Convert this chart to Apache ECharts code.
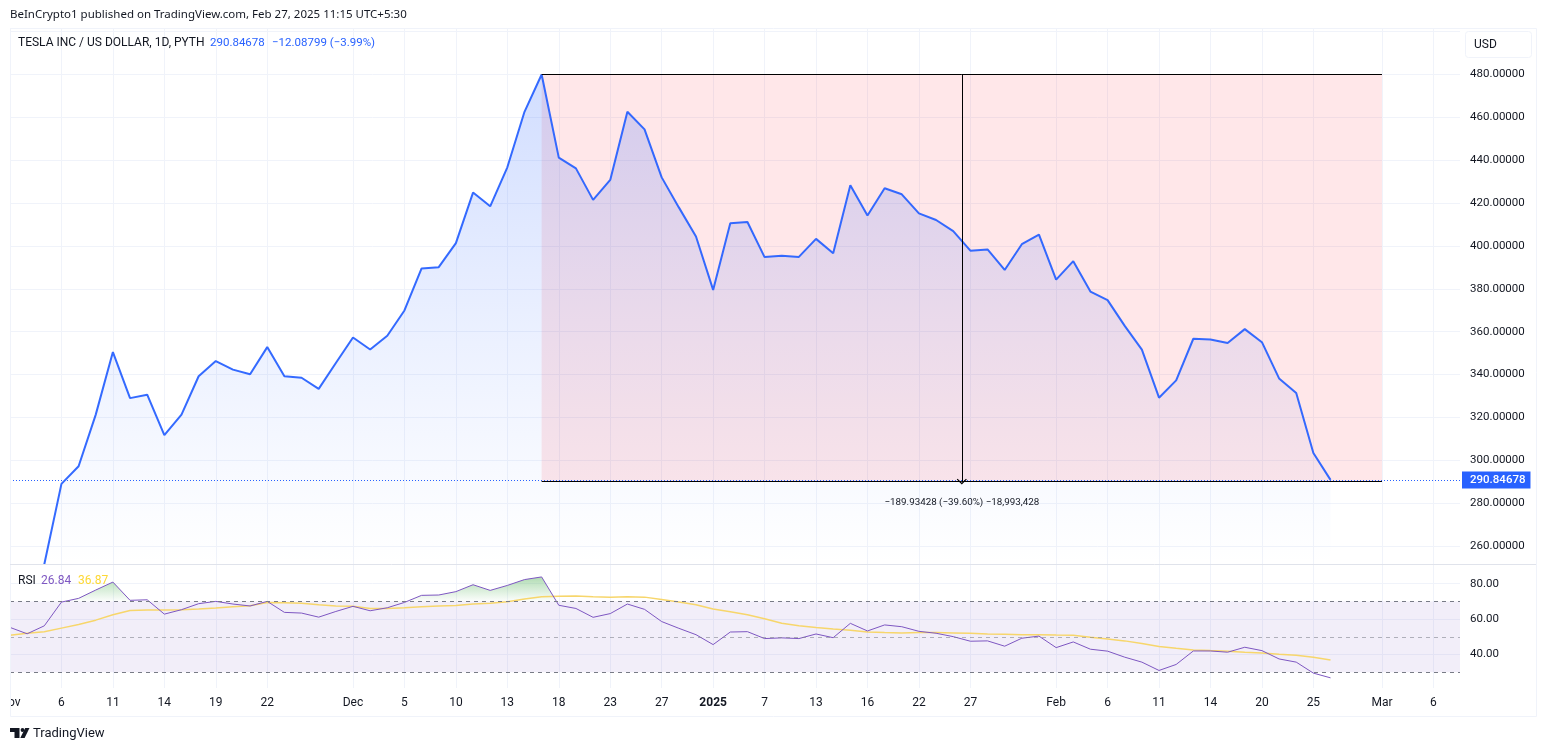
<!DOCTYPE html>
<html>
<head>
<meta charset="utf-8">
<title>TSLA / USD</title>
<script src="https://cdn.jsdelivr.net/npm/echarts@6/dist/echarts.min.js"></script>
<style>
  html, body { margin: 0; padding: 0; background: #fff; }
  #main { width: 1545px; height: 751px; }
</style>
</head>
<body>
<div id="main"></div>
<script>
  const FONT = 'Roboto, sans-serif';
  const HEAD_FONT = '"Noto Sans", sans-serif';
  const BLUE = '#2962ff';
  const GRID = '#f0f3fa';
  const INK = '#131722';

  // one entry per trading day from Nov 1 2024 (first two are below the pane)
  const price = [
    null, null, 251.5, 289, 297.2, 321.3, 350.5, 329, 330.6, 311.7, 321.3, 339.2, 346.3, 342.3, 340.1,
    352.8, 339.2, 338.5, 333.3, 345.4, 357.3, 351.7, 358.1, 369.9, 389.5, 390.1, 401.3, 424.9, 418.5, 436.7,
    462.6, 480, 441.2, 436.2, 421.5, 430.8, 462.6, 454.4, 432, 418, 404.4, 379.5, 410.6, 411.2, 394.8,
    395.4, 394.9, 403.3, 396.6, 428.3, 414.2, 426.9, 424.1, 415.2, 412.1, 406.9, 397.8, 398.4, 388.8, 400.8,
    405.3, 384.3, 392.9, 378.7, 374.7, 362.7, 351.6, 329.2, 337.3, 356.7, 356.4, 354.7, 361.2, 355.1, 338.2,
    331.4, 303.4, 290.85
  ];
  const rsi = [
    55.3, 51.7, 56.2, 69.6, 71.7, 76.4, 80.9, 70.6, 70.9, 62.8, 65.3, 68.7, 70, 68.5, 67.4,
    70, 63.8, 63.4, 61.1, 64.3, 67.2, 64.7, 66.4, 69.4, 73.4, 73.6, 75.5, 79.4, 76.2, 79,
    82.3, 83.8, 67.8, 66, 61, 63.1, 68.5, 65.5, 58.6, 54.8, 51.2, 45.6, 52.7, 52.9, 49,
    49.4, 49, 51.6, 49.5, 57.6, 53.3, 56.7, 55.7, 53.1, 52, 50.1, 47.5, 47.7, 44.7, 49.2,
    50.4, 43.9, 47.1, 43, 41.9, 38.5, 35.7, 31, 34.4, 42, 42, 41.3, 44.1, 42.2, 37.5,
    35.7, 29.5, 26.84
  ];
  const rsiMa = [
    50.9, 52, 52.8, 54.9, 57, 59.4, 62.5, 64.9, 65.1, 65.1, 65.3, 65.7, 66.2, 67, 67.5,
    69.4, 69.2, 69, 68.1, 67.4, 67.2, 66, 66, 66.4, 67, 67.4, 67.7, 68.5, 69, 69.8,
    71.3, 72.6, 72.9, 73, 72.6, 72.4, 72.6, 72.4, 71.1, 69.6, 68.1, 65.7, 64.2, 62.5, 60.2,
    57.6, 56.3, 55.2, 54.4, 53.7, 52.7, 52.4, 52.2, 52.5, 52.4, 52.2, 52, 51.6, 51.4, 51.2,
    51.2, 51, 50.9, 49.7, 48.8, 47.7, 46.2, 44.5, 43.5, 42.6, 42.2, 41.9, 41.3, 40.9, 40.2,
    39.6, 38.5, 36.87
  ];

  const dayLabels = {
    0: 'Nov', 3: '6', 6: '11', 9: '14', 12: '19', 15: '22', 20: 'Dec', 23: '5', 26: '10', 29: '13',
    32: '18', 35: '23', 38: '27', 41: '2025', 44: '7', 47: '13', 50: '16', 53: '22', 56: '27',
    61: 'Feb', 64: '6', 67: '11', 70: '14', 73: '20', 76: '25', 80: 'Mar', 83: '6'
  };
  const dayTicks = Object.keys(dayLabels).map(Number);

  const LAST_DAY = 84.55;
  const PEAK_DAY = 31, MEASURE_END_DAY = 80, ARROW_DAY = 55.5;
  const MEASURE_TOP = 480, MEASURE_BOTTOM = 290.07, LAST_PRICE = 290.84678;

  const toPoints = (arr) => arr.map((v, i) => [i, v]);

  const xAxisBase = {
    type: 'value',
    min: 0,
    max: LAST_DAY,
    axisLine: { show: false },
    axisTick: { show: false, customValues: dayTicks },
    splitLine: { show: true, lineStyle: { color: GRID, width: 1 } }
  };
  const yAxisBase = {
    type: 'value',
    position: 'right',
    scale: true,
    axisLine: { show: false },
    splitLine: { show: true, lineStyle: { color: GRID, width: 1 } }
  };
  const priceTicks = [];
  for (let v = 260; v <= 500; v += 20) priceTicks.push(v);
  const priceLabels = priceTicks.filter((v) => v <= 480);
  const rsiTicks = [40, 60, 80];

  const option = {
    animation: false,
    backgroundColor: '#fff',
    textStyle: { fontFamily: FONT },
    grid: [
      { left: 10, top: 28, width: 1450, height: 536, outerBoundsMode: 'none' },
      { left: 10, top: 564, width: 1450, height: 124, outerBoundsMode: 'none' }
    ],
    xAxis: [
      { ...xAxisBase, gridIndex: 0, axisLabel: { show: false } },
      {
        ...xAxisBase,
        gridIndex: 1,
        axisLabel: {
          customValues: dayTicks,
          margin: 9,
          fontFamily: FONT,
          fontSize: 12,
          color: INK,
          formatter: (v) => (dayLabels[v] === '2025' ? '{b|2025}' : dayLabels[v]),
          rich: { b: { fontWeight: 'bold', fontSize: 12, color: INK, fontFamily: FONT } }
        }
      }
    ],
    yAxis: [
      {
        ...yAxisBase,
        gridIndex: 0,
        min: 251.6,
        max: 501.7,
        axisTick: { show: false, customValues: priceTicks },
        axisLabel: {
          customValues: priceLabels,
          margin: 10,
          padding: [4, 0, 0, 0],
          fontFamily: FONT,
          fontSize: 11.5,
          color: INK,
          formatter: (v) => v.toFixed(5)
        }
      },
      {
        ...yAxisBase,
        gridIndex: 1,
        min: 21.1,
        max: 91.1,
        axisTick: { show: false, customValues: rsiTicks },
        axisLabel: {
          customValues: rsiTicks,
          margin: 10,
          padding: [3, 0, 0, 0],
          fontFamily: FONT,
          fontSize: 11.5,
          color: INK,
          formatter: (v) => v.toFixed(2)
        }
      }
    ],
    series: [
      {
        // pink box of the measure tool
        name: 'Range',
        type: 'line',
        xAxisIndex: 0,
        yAxisIndex: 0,
        data: [],
        z: 1,
        silent: true,
        markArea: {
          silent: true,
          itemStyle: { color: 'rgba(255,60,75,0.12)' },
          data: [[{ coord: [PEAK_DAY, MEASURE_TOP] }, { coord: [MEASURE_END_DAY, MEASURE_BOTTOM] }]]
        }
      },
      {
        name: 'TSLA',
        type: 'line',
        xAxisIndex: 0,
        yAxisIndex: 0,
        data: toPoints(price),
        z: 2,
        symbol: 'none',
        lineStyle: { color: BLUE, width: 2, opacity: 0.95 },
        itemStyle: { color: BLUE },
        areaStyle: {
          origin: 'start',
          color: {
            type: 'linear', x: 0, y: 0, x2: 0, y2: 1,
            colorStops: [
              { offset: 0, color: 'rgba(41,98,255,0.3)' },
              { offset: 0.5, color: 'rgba(41,98,255,0.14)' },
              { offset: 0.92, color: 'rgba(41,98,255,0.02)' },
              { offset: 1, color: 'rgba(41,98,255,0)' }
            ]
          }
        },
        markLine: {
          silent: true,
          symbol: 'none',
          lineStyle: { color: BLUE, type: [1, 2], width: 1 },
          label: {
            position: 'end',
            distance: 2,
            formatter: LAST_PRICE.toFixed(5),
            color: '#fff',
            fontFamily: FONT,
            fontSize: 11.5,
            fontWeight: 500,
            backgroundColor: BLUE,
            padding: [3, 5, 2, 8]
          },
          data: [[{ coord: [0, LAST_PRICE] }, { coord: [LAST_DAY, LAST_PRICE] }]]
        }
      },
      {
        // measure tool lines and its caption
        name: 'Measure',
        type: 'line',
        xAxisIndex: 0,
        yAxisIndex: 0,
        data: [],
        z: 3,
        silent: true,
        markLine: {
          silent: true,
          symbol: 'none',
          label: { show: false },
          lineStyle: { color: '#000', type: 'solid', width: 1 },
          data: [
            [{ coord: [PEAK_DAY, MEASURE_TOP] }, { coord: [MEASURE_END_DAY, MEASURE_TOP] }],
            [{ coord: [PEAK_DAY, MEASURE_BOTTOM] }, { coord: [MEASURE_END_DAY, MEASURE_BOTTOM] }],
            [
              { coord: [ARROW_DAY, MEASURE_TOP], symbol: 'none' },
              {
                coord: [ARROW_DAY, MEASURE_BOTTOM],
                symbol: 'path://M5 0L10 5L9.2 5.8L5 1.6L0.8 5.8L0 5Z',
                symbolSize: [10, 6],
                symbolKeepAspect: true
              }
            ]
          ]
        },
        markPoint: {
          silent: true,
          symbol: 'circle',
          symbolSize: 0,
          label: {
            show: true,
            position: 'inside',
            formatter: '\u2212189.93428 (\u221239.60%) \u221218,993,428',
            color: INK,
            fontFamily: FONT,
            fontSize: 9.8
          },
          data: [{ coord: [ARROW_DAY, 280.2] }]
        }
      },
      {
        name: 'RSI band',
        type: 'line',
        xAxisIndex: 1,
        yAxisIndex: 1,
        data: [],
        z: 1,
        silent: true,
        markArea: {
          silent: true,
          itemStyle: { color: 'rgba(126,87,194,0.1)' },
          data: [[{ coord: [0, 70] }, { coord: [LAST_DAY, 30] }]]
        },
        markLine: {
          silent: true,
          symbol: 'none',
          label: { show: false },
          lineStyle: { type: [4, 4], width: 1, color: '#787b86' },
          data: [
            { yAxis: 70 },
            { yAxis: 50, lineStyle: { color: 'rgba(120,123,134,0.55)', type: [4, 4], width: 1 } },
            { yAxis: 30 }
          ]
        }
      },
      {
        // green fill above 70, the gradient stops dead at the 70 level (pane pixel 601)
        name: 'RSI overbought',
        type: 'line',
        xAxisIndex: 1,
        yAxisIndex: 1,
        data: toPoints(rsi),
        z: 2,
        silent: true,
        symbol: 'none',
        lineStyle: { width: 0 },
        areaStyle: {
          origin: 70,
          color: {
            type: 'linear', x: 0, y: 578, x2: 0, y2: 601.5, global: true,
            colorStops: [
              { offset: 0, color: 'rgba(76,175,80,0.6)' },
              { offset: 0.98, color: 'rgba(76,175,80,0.03)' },
              { offset: 1, color: 'rgba(76,175,80,0)' }
            ]
          }
        }
      },
      {
        name: 'RSI',
        type: 'line',
        xAxisIndex: 1,
        yAxisIndex: 1,
        data: toPoints(rsi),
        z: 4,
        symbol: 'none',
        lineStyle: { color: '#7e57c2', width: 1 },
        itemStyle: { color: '#7e57c2' }
      },
      {
        name: 'RSI MA',
        type: 'line',
        xAxisIndex: 1,
        yAxisIndex: 1,
        data: toPoints(rsiMa),
        z: 3,
        symbol: 'none',
        lineStyle: { color: '#f7d66b', width: 1.5 },
        itemStyle: { color: '#f7d66b' }
      }
    ],
    graphic: [
      // cuts the first tick label at the pane edge
      { type: 'rect', z: 90, shape: { x: 0, y: 692, width: 10, height: 20 }, style: { fill: '#fff' } },
      // frame of the panes
      { type: 'rect', z: 91, silent: true, shape: { x: 10.5, y: 28.5, width: 1526, height: 688 }, style: { fill: 'none', stroke: GRID, lineWidth: 1 } },
      { type: 'line', z: 91, silent: true, shape: { x1: 10, y1: 564.5, x2: 1536, y2: 564.5 }, style: { stroke: '#e0e3eb', lineWidth: 1 } },
      // currency button
      { type: 'rect', z: 92, shape: { x: 1465.5, y: 31.5, width: 66, height: 26, r: 3 }, style: { fill: '#fff', stroke: GRID, lineWidth: 1 } },
      { type: 'text', z: 93, style: { x: 1474, y: 45, text: 'USD', font: '12px ' + FONT, fill: INK, verticalAlign: 'middle' } },
      // header and legends
      { type: 'text', z: 93, style: { x: 10, y: 15, text: 'BeInCrypto1 published on TradingView.com, Feb 27, 2025 11:15 UTC+5:30', font: '11.5px ' + HEAD_FONT, fill: INK, verticalAlign: 'middle' } },
      { type: 'text', z: 93, style: { x: 18, y: 43, text: 'TESLA INC / US DOLLAR, 1D, PYTH', font: '12px ' + FONT, fill: INK, verticalAlign: 'middle' } },
      { type: 'text', z: 93, style: { x: 210, y: 43, text: '290.84678', font: '11.5px ' + FONT, fill: BLUE, verticalAlign: 'middle' } },
      { type: 'text', z: 93, style: { x: 272, y: 43, text: '\u221212.08799 (\u22123.99%)', font: '11.5px ' + FONT, fill: BLUE, verticalAlign: 'middle' } },
      { type: 'text', z: 93, style: { x: 18, y: 581, text: 'RSI', font: '12px ' + FONT, fill: INK, verticalAlign: 'middle' } },
      { type: 'text', z: 93, style: { x: 41, y: 581, text: '26.84', font: '12px ' + FONT, fill: '#7e57c2', verticalAlign: 'middle' } },
      { type: 'text', z: 93, style: { x: 78, y: 581, text: '36.87', font: '12px ' + FONT, fill: '#fdd835', verticalAlign: 'middle' } },
      // footer logo and name
      { type: 'polygon', z: 93, shape: { points: [[10, 728], [19.5, 728], [19.5, 738], [14.5, 738], [14.5, 732], [10, 732]] }, style: { fill: INK } },
      { type: 'circle', z: 93, shape: { cx: 22.5, cy: 730, r: 1.9 }, style: { fill: INK } },
      { type: 'polygon', z: 93, shape: { points: [[25.2, 728], [29.5, 728], [24.6, 738], [20.3, 738]] }, style: { fill: INK } },
      { type: 'text', z: 93, style: { x: 33, y: 734, text: 'TradingView', font: '13px ' + FONT, fill: INK, verticalAlign: 'middle' } }
    ]
  };

  const myChart = echarts.init(document.getElementById('main'));
  myChart.setOption(option);
</script>
</body>
</html>
